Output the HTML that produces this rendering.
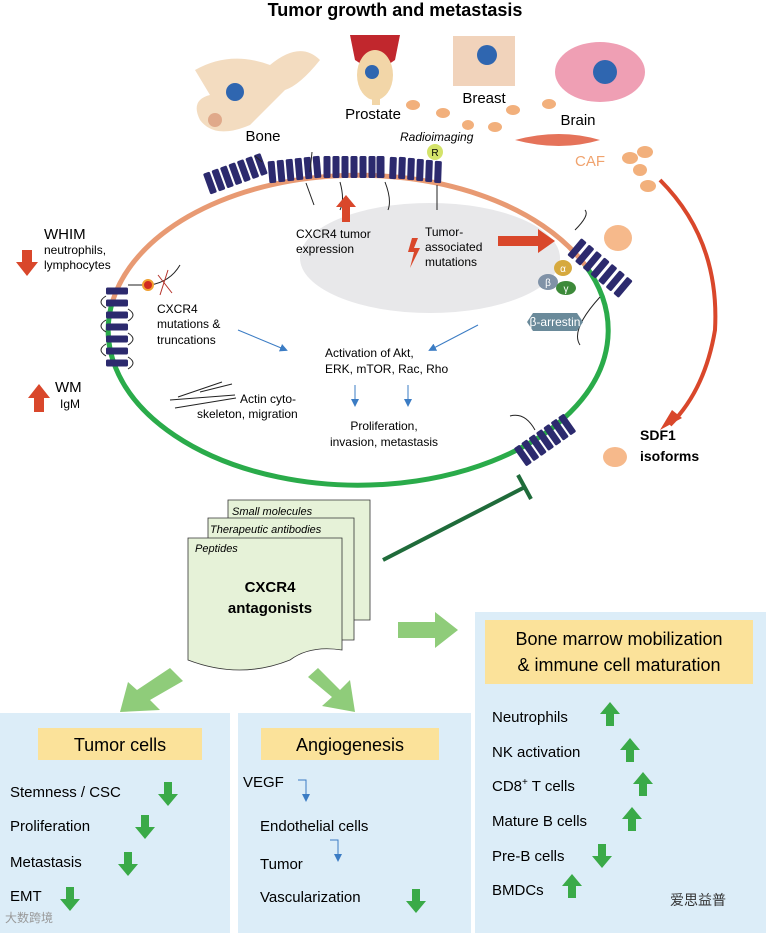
<!DOCTYPE html><html><head><meta charset="utf-8"><style>body{margin:0;background:#fff}svg{display:block}text{font-family:"Liberation Sans",Arial,sans-serif}</style></head><body>
<svg width="766" height="933" viewBox="0 0 766 933" xmlns="http://www.w3.org/2000/svg">
<defs>
<g id="bar"><rect x="-11" y="-3.5" width="22" height="7" rx="1.5" fill="#2c2a6e"/></g>
<marker id="ba" markerWidth="8" markerHeight="8" refX="6" refY="4" orient="auto"><path d="M0,0 L8,4 L0,8z" fill="#3b7cc4"/></marker>
</defs>
<text x="395" y="16" text-anchor="middle" font-size="18" font-weight="bold">Tumor growth and metastasis</text>
<!-- organs -->
<path d="M195,70 Q230,50 270,65 Q300,40 320,60 Q300,85 285,90 L250,125 Q215,140 200,120 Q190,100 210,95 Z" fill="#f3dcc0"/>
<circle cx="235" cy="92" r="9" fill="#2f66b0"/><circle cx="215" cy="120" r="7" fill="#e0a98a"/>
<text x="263" y="141" text-anchor="middle" font-size="15">Bone</text>
<path d="M350,35 L400,35 L395,60 Q375,75 355,60 Z" fill="#c1272d"/>
<ellipse cx="375" cy="75" rx="18" ry="25" fill="#f2d6a8"/><circle cx="372" cy="72" r="7" fill="#2f66b0"/>
<rect x="372" y="95" width="8" height="10" fill="#f2d6a8"/>
<text x="373" y="119" text-anchor="middle" font-size="15">Prostate</text>
<rect x="453" y="36" width="62" height="50" fill="#f1d3bb"/><circle cx="487" cy="55" r="10" fill="#2f66b0"/>
<text x="484" y="103" text-anchor="middle" font-size="15">Breast</text>
<ellipse cx="600" cy="72" rx="45" ry="30" fill="#ef9fb4"/><circle cx="605" cy="72" r="12" fill="#2f66b0"/>
<text x="578" y="125" text-anchor="middle" font-size="15">Brain</text>
<g fill="#f2b07c"><ellipse cx="413" cy="105" rx="7" ry="5"/><ellipse cx="443" cy="113" rx="7" ry="5"/><ellipse cx="513" cy="110" rx="7" ry="5"/><ellipse cx="549" cy="104" rx="7" ry="5"/><ellipse cx="468" cy="125" rx="6" ry="5"/><ellipse cx="495" cy="127" rx="7" ry="5"/><ellipse cx="630" cy="158" rx="8" ry="6"/><ellipse cx="645" cy="152" rx="8" ry="6"/><ellipse cx="640" cy="170" rx="7" ry="6"/><ellipse cx="648" cy="186" rx="8" ry="6"/></g>
<path d="M515,140 Q560,128 600,140 Q560,152 515,140Z" fill="#e5735a"/>
<text x="575" y="166" font-size="15" fill="#f0a36e">CAF</text>
<text x="400" y="141" font-size="12" font-style="italic">Radioimaging</text>
<circle cx="435" cy="152" r="8" fill="#d4e36a"/><text x="435" y="156" text-anchor="middle" font-size="10">R</text>
<!-- cell -->
<path d="M113,300 A250,155 0 0 1 585,265" fill="none" stroke="#e89a73" stroke-width="5"/>
<path d="M585,265 A250,155 0 1 1 113,300" fill="none" stroke="#2aab4a" stroke-width="5"/>
<ellipse cx="430" cy="258" rx="130" ry="55" fill="#e8e8ea"/>
<!-- top receptors -->
<g transform="translate(210,183) rotate(-20)"><use href="#bar" transform="translate(0,0) rotate(90)"/><use href="#bar" transform="translate(9,0) rotate(90)"/><use href="#bar" transform="translate(18,0) rotate(90)"/><use href="#bar" transform="translate(27,0) rotate(90)"/><use href="#bar" transform="translate(36,0) rotate(90)"/><use href="#bar" transform="translate(45,0) rotate(90)"/><use href="#bar" transform="translate(54,0) rotate(90)"/></g>
<g><use href="#bar" transform="translate(272,172) rotate(85)"/><use href="#bar" transform="translate(281,171) rotate(85)"/><use href="#bar" transform="translate(290,170) rotate(85)"/><use href="#bar" transform="translate(299,169) rotate(85)"/><use href="#bar" transform="translate(308,168) rotate(85)"/><use href="#bar" transform="translate(317,167) rotate(85)"/>
<use href="#bar" transform="translate(327,167) rotate(90)"/><use href="#bar" transform="translate(336,167) rotate(90)"/><use href="#bar" transform="translate(345,167) rotate(90)"/><use href="#bar" transform="translate(354,167) rotate(90)"/><use href="#bar" transform="translate(363,167) rotate(90)"/><use href="#bar" transform="translate(372,167) rotate(90)"/><use href="#bar" transform="translate(381,167) rotate(90)"/>
<use href="#bar" transform="translate(380,167) rotate(90)"/><use href="#bar" transform="translate(393,168) rotate(92)"/><use href="#bar" transform="translate(402,168) rotate(92)"/><use href="#bar" transform="translate(411,169) rotate(92)"/><use href="#bar" transform="translate(420,170) rotate(92)"/><use href="#bar" transform="translate(429,171) rotate(92)"/><use href="#bar" transform="translate(438,172) rotate(92)"/></g>
<path d="M306,183 L314,205 M340,182 Q345,200 340,210 M385,182 Q392,200 388,210 M437,185 L437,210" stroke="#222" fill="none"/>
<path d="M262,162 L255,156 M310,172 L312,152" stroke="#222" fill="none"/>
<!-- left receptor -->
<g><use href="#bar" transform="translate(117,291)"/><use href="#bar" transform="translate(117,303)"/><use href="#bar" transform="translate(117,315)"/><use href="#bar" transform="translate(117,327)"/><use href="#bar" transform="translate(117,339)"/><use href="#bar" transform="translate(117,351)"/><use href="#bar" transform="translate(117,363)"/></g>
<path d="M106,296 Q96,302 106,308 M128,309 Q138,315 128,321 M106,320 Q96,326 106,332 M128,333 Q138,339 128,345 M106,344 Q96,350 106,356 M128,357 Q138,363 128,369 M128,285 L150,285 Q170,282 180,265" stroke="#222" fill="none"/>
<circle cx="148" cy="285" r="5" fill="#d02a1f" stroke="#f0a030" stroke-width="2"/>
<path d="M158,275 L172,293 M168,270 L160,295" stroke="#b5322a"/>
<!-- right receptor -->
<g transform="translate(600,268) rotate(40)"><use href="#bar" transform="translate(-30,0) rotate(90)"/><use href="#bar" transform="translate(-20,0) rotate(90)"/><use href="#bar" transform="translate(-10,0) rotate(90)"/><use href="#bar" transform="translate(0,0) rotate(90)"/><use href="#bar" transform="translate(10,0) rotate(90)"/><use href="#bar" transform="translate(20,0) rotate(90)"/><use href="#bar" transform="translate(30,0) rotate(90)"/></g>
<path d="M575,230 Q590,215 585,210 M600,297 Q570,330 580,345" stroke="#222" fill="none"/>
<ellipse cx="618" cy="238" rx="14" ry="13" fill="#f6b98b"/>
<ellipse cx="563" cy="268" rx="9" ry="8" fill="#d6a93e"/><text x="563" y="272" text-anchor="middle" font-size="10" fill="#fff">α</text>
<ellipse cx="548" cy="282" rx="10" ry="8" fill="#8092a7"/><text x="548" y="286" text-anchor="middle" font-size="10" fill="#fff">β</text>
<ellipse cx="566" cy="288" rx="10" ry="7" fill="#3d8a3a"/><text x="566" y="292" text-anchor="middle" font-size="10" fill="#fff">γ</text>
<path d="M527,322 L533,313 L577,313 L583,322 L577,331 L533,331Z" fill="#6a8a9a"/>
<text x="555" y="326" text-anchor="middle" font-size="12" fill="#fff">β-arrestin</text>
<!-- bottom right receptor -->
<g transform="translate(545,440) rotate(-35)"><use href="#bar" transform="translate(-27,0) rotate(90)"/><use href="#bar" transform="translate(-18,0) rotate(90)"/><use href="#bar" transform="translate(-9,0) rotate(90)"/><use href="#bar" transform="translate(0,0) rotate(90)"/><use href="#bar" transform="translate(9,0) rotate(90)"/><use href="#bar" transform="translate(18,0) rotate(90)"/><use href="#bar" transform="translate(27,0) rotate(90)"/></g>
<path d="M510,416 Q525,412 535,430" stroke="#222" fill="none"/>
<!-- texts -->
<text x="296" y="238" font-size="12">CXCR4 tumor</text><text x="296" y="253" font-size="12">expression</text>
<path d="M342,222 L342,207 L336,207 L346,195 L356,207 L350,207 L350,222Z" fill="#d9472b"/>
<text x="425" y="236" font-size="12">Tumor-</text><text x="425" y="251" font-size="12">associated</text><text x="425" y="266" font-size="12">mutations</text>
<path d="M412,238 L408,252 L414,252 L410,268 L420,248 L414,248 L418,238Z" fill="#d9472b"/>
<path d="M498,236 L538,236 L538,229 L555,241 L538,253 L538,246 L498,246Z" fill="#d9472b"/>
<text x="157" y="313" font-size="12">CXCR4</text><text x="157" y="328" font-size="12">mutations &amp;</text><text x="157" y="344" font-size="12">truncations</text>
<line x1="238" y1="330" x2="286" y2="350" stroke="#3b7cc4" marker-end="url(#ba)"/>
<line x1="478" y1="325" x2="430" y2="350" stroke="#3b7cc4" marker-end="url(#ba)"/>
<text x="325" y="357" font-size="12">Activation of Akt,</text><text x="325" y="373" font-size="12">ERK, mTOR, Rac, Rho</text>
<line x1="355" y1="385" x2="355" y2="405" stroke="#3b7cc4" marker-end="url(#ba)"/>
<line x1="408" y1="385" x2="408" y2="405" stroke="#3b7cc4" marker-end="url(#ba)"/>
<text x="384" y="430" text-anchor="middle" font-size="12">Proliferation,</text><text x="384" y="446" text-anchor="middle" font-size="12">invasion, metastasis</text>
<path d="M178,397 L222,382 M200,392 L232,384 M170,400 L235,395 M175,408 L236,398" stroke="#222"/>
<text x="240" y="403" font-size="12">Actin cyto-</text><text x="197" y="418" font-size="12">skeleton, migration</text>
<text x="44" y="239" font-size="15">WHIM</text><text x="44" y="254" font-size="12">neutrophils,</text><text x="44" y="269" font-size="12">lymphocytes</text>
<path d="M22,250 L22,262 L16,262 L27,276 L38,262 L32,262 L32,250Z" fill="#d9472b"/>
<text x="55" y="392" font-size="15">WM</text><text x="60" y="408" font-size="12">IgM</text>
<path d="M34,412 L34,398 L28,398 L39,384 L50,398 L44,398 L44,412Z" fill="#d9472b"/>
<path d="M660,180 Q720,240 715,330 Q705,390 670,425" fill="none" stroke="#d9472b" stroke-width="4"/>
<path d="M660,430 L682,418 L672,410Z" fill="#d9472b"/>
<text x="640" y="440" font-size="14" font-weight="bold">SDF1</text><text x="640" y="461" font-size="14" font-weight="bold">isoforms</text>
<ellipse cx="615" cy="457" rx="12" ry="10" fill="#f6b98b"/>
<line x1="383" y1="560" x2="525" y2="487" stroke="#1f6b3a" stroke-width="4"/><line x1="518" y1="475" x2="531" y2="499" stroke="#1f6b3a" stroke-width="4"/>
<!-- documents -->
<path d="M228,500 L370,500 L370,620 L228,620Z" fill="#e6f2d8" stroke="#333" stroke-width="0.8"/>
<path d="M208,518 L354,518 L354,640 L208,640Z" fill="#e6f2d8" stroke="#333" stroke-width="0.8"/>
<path d="M188,538 L342,538 L342,650 Q310,645 290,660 Q240,680 188,660Z" fill="#e6f2d8" stroke="#333" stroke-width="0.8"/>
<text x="232" y="515" font-size="11" font-style="italic">Small molecules</text>
<text x="210" y="533" font-size="11" font-style="italic">Therapeutic antibodies</text>
<text x="195" y="552" font-size="11" font-style="italic">Peptides</text>
<text x="270" y="592" text-anchor="middle" font-size="15" font-weight="bold">CXCR4</text><text x="270" y="613" text-anchor="middle" font-size="15" font-weight="bold">antagonists</text>
<!-- green arrows -->
<path d="M398,622 L435,622 L435,612 L458,630 L435,648 L435,638 L398,638Z" fill="#8fcc7a"/>
<path d="M170,668 L183,681 L150,700 L160,710 L120,712 L128,682 L137,690Z" fill="#8fcc7a"/>
<path d="M318,668 L340,690 L350,680 L355,712 L322,706 L332,697 L308,677Z" fill="#8fcc7a"/>
<!-- panels -->
<rect x="0" y="713" width="230" height="220" fill="#dcedf8"/>
<rect x="238" y="713" width="233" height="220" fill="#dcedf8"/>
<rect x="475" y="612" width="291" height="321" fill="#dcedf8"/>
<rect x="38" y="728" width="164" height="32" fill="#fbe29a"/><text x="120" y="751" text-anchor="middle" font-size="18">Tumor cells</text>
<rect x="261" y="728" width="178" height="32" fill="#fbe29a"/><text x="350" y="751" text-anchor="middle" font-size="18">Angiogenesis</text>
<rect x="485" y="620" width="268" height="64" fill="#fbe29a"/><text x="619" y="645" text-anchor="middle" font-size="18">Bone marrow mobilization</text><text x="619" y="671" text-anchor="middle" font-size="18">&amp; immune cell maturation</text>
<g font-size="15">
<text x="10" y="797">Stemness / CSC</text><text x="10" y="831">Proliferation</text><text x="10" y="867">Metastasis</text><text x="10" y="901">EMT</text>
<text x="243" y="787">VEGF</text><text x="260" y="831">Endothelial cells</text><text x="260" y="869">Tumor</text><text x="260" y="902">Vascularization</text>
<text x="492" y="722">Neutrophils</text><text x="492" y="757">NK activation</text><text x="492" y="791">CD8<tspan font-size="10" dy="-6">+</tspan><tspan dy="6"> T cells</tspan></text><text x="492" y="826">Mature B cells</text><text x="492" y="861">Pre-B cells</text><text x="492" y="895">BMDCs</text>
</g>
<g fill="#3aaa48">
<path id="dn" d="M-4,0 L4,0 L4,12 L10,12 L0,24 L-10,12 L-4,12Z" transform="translate(168,782)"/>
<path d="M-4,0 L4,0 L4,12 L10,12 L0,24 L-10,12 L-4,12Z" transform="translate(145,815)"/>
<path d="M-4,0 L4,0 L4,12 L10,12 L0,24 L-10,12 L-4,12Z" transform="translate(128,852)"/>
<path d="M-4,0 L4,0 L4,12 L10,12 L0,24 L-10,12 L-4,12Z" transform="translate(70,887)"/>
<path d="M-4,0 L4,0 L4,12 L10,12 L0,24 L-10,12 L-4,12Z" transform="translate(416,889)"/>
<path d="M-4,0 L4,0 L4,12 L10,12 L0,24 L-10,12 L-4,12Z" transform="translate(602,844)"/>
<path d="M-4,24 L4,24 L4,12 L10,12 L0,0 L-10,12 L-4,12Z" transform="translate(610,702)"/>
<path d="M-4,24 L4,24 L4,12 L10,12 L0,0 L-10,12 L-4,12Z" transform="translate(630,738)"/>
<path d="M-4,24 L4,24 L4,12 L10,12 L0,0 L-10,12 L-4,12Z" transform="translate(643,772)"/>
<path d="M-4,24 L4,24 L4,12 L10,12 L0,0 L-10,12 L-4,12Z" transform="translate(632,807)"/>
<path d="M-4,24 L4,24 L4,12 L10,12 L0,0 L-10,12 L-4,12Z" transform="translate(572,874)"/>
</g>
<path d="M298,780 L306,780 L306,800" fill="none" stroke="#3b7cc4" marker-end="url(#ba)"/>
<path d="M330,840 L338,840 L338,860" fill="none" stroke="#3b7cc4" marker-end="url(#ba)"/>
<text x="670" y="905" font-size="14" fill="#333" font-family="Noto Sans CJK SC">爱思益普</text>
<text x="5" y="922" font-size="12" fill="#999" font-family="Noto Sans CJK SC">大数跨境</text>
</svg>
</body></html>
